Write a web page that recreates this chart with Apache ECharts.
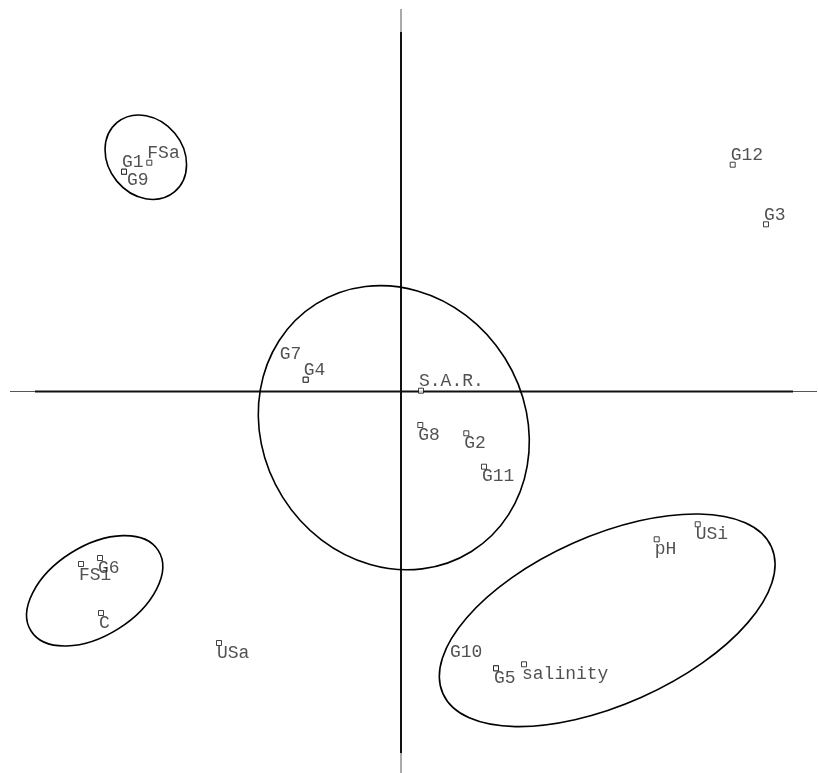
<!DOCTYPE html>
<html>
<head>
<meta charset="utf-8">
<script src="https://cdn.jsdelivr.net/npm/echarts@6/dist/echarts.min.js"></script>
<style>
  html, body { margin: 0; padding: 0; background: #fff; }
  #chart { width: 818px; height: 773px; }
</style>
</head>
<body>
<div id="chart"></div>
<script>
// points of the biplot (score units)
const pointNames = ["G1", "G9", "FSa", "G12", "G3", "G7", "G4", "S.A.R.", "G8", "G2", "G11",
  "USi", "pH", "G10", "G5", "salinity", "FSi", "G6", "C", "USa"];
const pointX = [-2.77, -2.77, -2.517, 3.317, 3.65, -0.953, -0.953, 0.2, 0.193, 0.653, 0.83,
  2.967, 2.557, 0.95, 0.95, 1.23, -3.2, -3.01, -3.0, -1.82];
const pointY = [2.198, 2.198, 2.288, 2.268, 1.672, 0.118, 0.118, 0.008, -0.335, -0.418, -0.752,
  -1.328, -1.478, -2.768, -2.768, -2.728, -1.725, -1.665, -2.215, -2.515];

// group ellipses: centre, semi axes, angle of the major axis (degrees)
const ellipseCx = [-2.552, -0.072, -3.063, 2.062];
const ellipseCy = [2.343, -0.362, -1.993, -2.288];
const ellipseA = [0.45, 1.461, 0.753, 1.799];
const ellipseB = [0.376, 1.311, 0.447, 0.843];
const ellipseAngle = [-50.5, -57.9, 32.3, 24.05];

// axis lines
const hThin = [-3.91, 4.16];
const hThick = [-3.66, 3.92];
const vThin = [-3.815, 3.825];
const vThick = [-3.615, 3.595];

// label placement (pixels)
const labelAbove = ["G1", "FSa", "G12", "G3", "G4", "S.A.R."];
const labelShift = { G7: [-26, -25], G10: [-46, -16], G9: [3, 9], FSi: [-2, 11] };

const font = "Liberation Mono";

const points = pointNames.map((name, i) => {
  let off = labelAbove.includes(name) ? [-2, -9] : [-2, 10];
  if (labelShift[name]) off = labelShift[name];
  return {
    name: name,
    value: [pointX[i], pointY[i]],
    label: { offset: off },
  };
});

const ellipses = ellipseCx.map((cx, i) => [cx, ellipseCy[i], ellipseA[i], ellipseB[i], ellipseAngle[i]]);

function lineSeries(data, width, color) {
  return {
    type: "line",
    data: data,
    showSymbol: false,
    silent: true,
    z: 1,
    lineStyle: { width: width, color: color },
  };
}

const chart = echarts.init(document.getElementById("chart"));
chart.setOption({
  animation: false,
  backgroundColor: "#fff",
  grid: { left: 1, top: 1.5, width: 817, height: 771.5 },
  xAxis: { type: "value", min: -4, max: 4.17, show: false },
  yAxis: { type: "value", min: -3.815, max: 3.9, show: false },
  series: [
    lineSeries([[hThin[0], 0], [hThin[1], 0]], 1, "#555"),
    lineSeries([[0, vThin[0]], [0, vThin[1]]], 1, "#555"),
    lineSeries([[hThick[0], 0], [hThick[1], 0]], 2, "#111"),
    lineSeries([[0, vThick[0]], [0, vThick[1]]], 2, "#111"),
    {
      type: "custom",
      coordinateSystem: "cartesian2d",
      silent: true,
      z: 2,
      data: ellipses,
      encode: { x: 0, y: 1 },
      renderItem: function (params, api) {
        const c = api.coord([api.value(0), api.value(1)]);
        const rx = api.size([api.value(2), 0])[0];
        const ry = api.size([api.value(3), 0])[0];
        return {
          type: "ellipse",
          x: c[0],
          y: c[1],
          rotation: (api.value(4) * Math.PI) / 180,
          shape: { cx: 0, cy: 0, rx: rx, ry: ry },
          style: { fill: "none", stroke: "#000", lineWidth: 1.6 },
        };
      },
    },
    {
      type: "scatter",
      z: 3,
      symbol: "rect",
      symbolSize: 5,
      itemStyle: { color: "#fff", borderColor: "#111", borderWidth: 1 },
      label: {
        show: true,
        position: "inside",
        align: "left",
        verticalAlign: "middle",
        formatter: (p) => p.name,
        fontFamily: font,
        fontSize: 18,
        color: "#262626",
      },
      data: points,
    },
  ],
});
</script>
</body>
</html>
